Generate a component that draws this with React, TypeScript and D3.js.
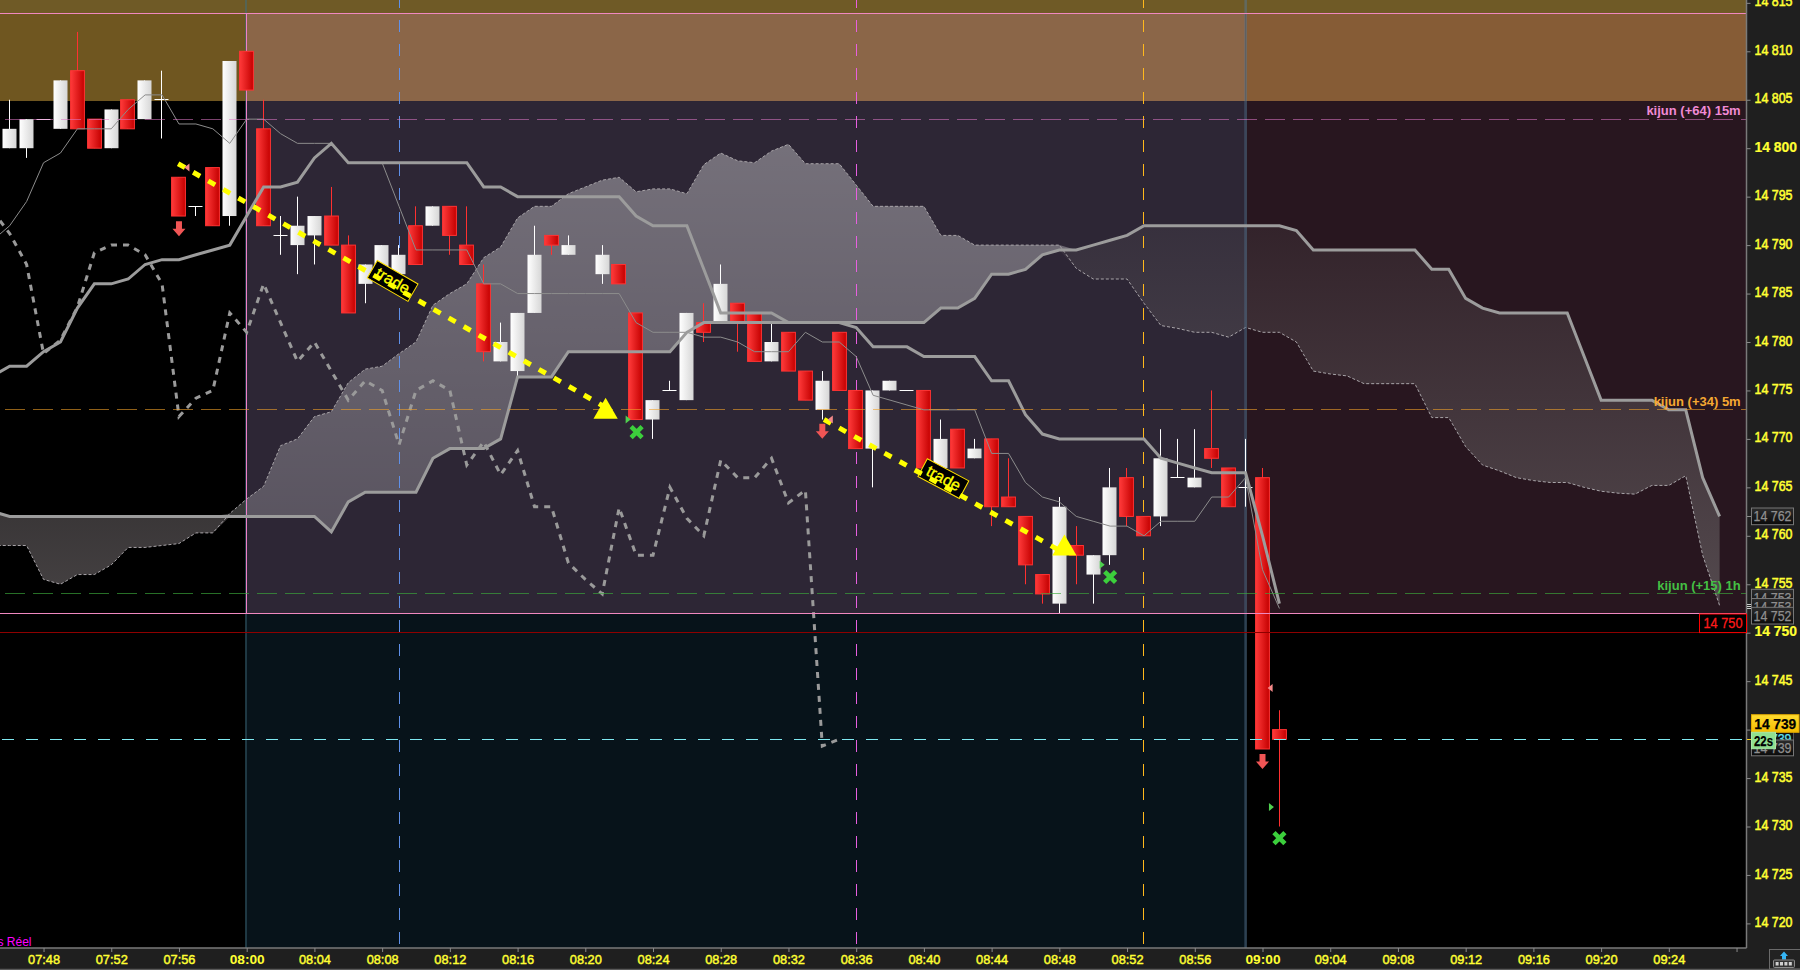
import { useEffect, useRef } from "react"
import * as d3 from "d3"

// minutes are counted from 08:00
const firstCandle = -14
const opens = [14800,14800,14803,14802,14808,14803,14800,14805,14803,14805,14797,14794,14798,14793,14810,14802,14791,14790,14791,14793,14790,14786,14787,14787,14792,14792,14794,14790,14786,14778,14777,14783,14791,14789,null,14787,14788,14783,14772,14775,14774,14782,14782,14784,14783,14778,14781,14777,14773,14781,14775,14769,14775,14775,14775,14767,14771,14768,14770,14764,14762,14756,14753,14759,14756,14758,14766,14762,14762,14766,14765,14769,14767,14765,14766,14740]
const highs = [14805,14803,14803,14807,14812,14803,14804,14805,14807,14808,14797,14794,14798,14809,14810,14805,14793,14795,14793,14796,14791,14788,14790,14790,14794,14794,14794,14794,14788,14782,14783,14792,14791,14791,null,14790,14788,14783,14774,14776,14783,14784,14788,14784,14783,14782,14781,14777,14777,14781,14775,14775,14776,14775,14775,14772,14771,14770,14770,14768,14762,14756,14764,14761,14758,14767,14767,14762,14771,14770,14771,14775,14767,14770,14767,14742]
const lows = [14800,14799,14803,14802,14802,14800,14800,14802,14803,14801,14793,14793,14792,14792,14806,14792,14789,14787,14788,14790,14783,14784,14787,14787,14788,14792,14789,14788,14778,14778,14776.5,14783,14789,14789,null,14786,14786,14772,14770,14775,14774,14780,14782,14779,14778,14778,14777,14774,14772,14775,14769,14765,14775,14775,14767,14767,14767,14768,14761,14763,14755,14753,14752,14755,14753,14757,14761,14760,14761,14766,14765,14767,14763,14763,14738,14730]
const closes = [14802,14803,14803,14807,14802,14800,14804,14802,14807,14805,14793,14794,14792,14809,14806,14792,14791,14792,14793,14790,14783,14788,14790,14789,14788,14794,14791,14788,14779,14780,14783,14789,14790,14790,null,14789,14786,14772,14774,14775,14783,14781,14786,14782,14778,14780,14777,14774,14776,14775,14769,14775,14776,14775,14767,14770,14767,14769,14763,14763,14757,14754,14763,14758,14758,14765,14762,14760,14768,14766,14766,14768,14763,14765,14738,14739]

const firstLine = -15
const tenkan = [14790.5,14792,14794.5,14798.5,14799.5,14802,14802,14802,14804,14805.5,14805.5,14802.5,14802.5,14802,14800.5,14803,14803,14801.5,14800.5,14800.5,14800.5,14798.5,14798.5,14798.5,14794,14789.5,14789.5,14789.5,14789.5,14786,14786,14785,14785,14785,14785,14785,14785,14785,14782,14781,14781,14781,14780.5,14780.5,14780,14779,14779,14779,14781,14780,14780,14778.5,14774.5,14774,14773.5,14773,14773,14773,14773,14768.5,14768.5,14765.5,14764,14763.5,14762,14761.5,14761,14761,14760,14761.5,14761.5,14761.5,14764,14764,14766,14756.5,14752.5]
const kijun = [14776.5,14777.5,14777.5,14779,14780,14783.5,14786,14786,14786.5,14788,14788.5,14788.5,14789,14789.5,14790,14793,14796,14796,14796.5,14799,14800.5,14798.5,14798.5,14798.5,14798.5,14798.5,14798.5,14798.5,14798.5,14796,14796,14795,14795,14795,14795,14795,14795,14795,14793,14792,14792,14792,14787.5,14783,14783,14783,14783,14782,14782,14782,14782,14781.5,14779.5,14779.5,14779.5,14778.5,14778.5,14778.5,14778.5,14776,14776,14772.5,14770.5,14770,14770,14770,14770,14770,14770,14768,14767.5,14767,14766.5,14766.5,14766.5,14760,14753]
const chikou = [14793.5,14791.2,14788,14778.8,14780.2,14783.6,14789.2,14790,14790,14789,14786,14772.3,14774.2,14775,14783,14781,14786,14782,14778,14780,14777,14774,14776,14775,14769.4,14775,14776,14775,14767.3,14769.7,14766.3,14768.8,14763,14763,14757.2,14755.5,14754,14762.9,14758,14758,14765,14761.8,14760,14767.8,14766,14766,14768,14763.4,14764.7,14738.3,14739]
const senkouA = [14762.5,14762,14762,14762,14762,14762,14762,14762,14762,14762,14762,14762,14762,14762,14762,14762,14762,14762,14762,14762,14760.4,14763.5,14764.5,14764.5,14764.5,14764.5,14768,14769,14769,14769,14770,14776.4,14776.4,14776.4,14779,14779,14779,14779,14779,14779,14779,14781,14782,14782,14782,14782,14782,14782,14782,14782,14782,14782,14782,14782,14782,14782,14783.5,14783.5,14784.5,14787,14787,14787.5,14789,14789.5,14789.5,14790,14790.5,14791,14792,14792,14792,14792,14792,14792,14792,14792,14792,14791.5,14789.5,14789.5,14789.5,14789.5,14789.5,14789.5,14789.5,14787.5,14787.5,14784.5,14783.5,14783,14783,14783,14783,14783,14778.5,14774,14774,14774,14774,14773,14773,14766,14762]
const senkouB = [14759,14759,14759,14755.5,14755,14756,14756,14757,14758.8,14758.8,14759,14759.2,14760.3,14760.3,14762.3,14763.8,14765.1,14769.3,14770,14772.3,14772.8,14775.8,14777.2,14777.5,14778.8,14780,14783.8,14785,14786,14788.7,14789.8,14792.8,14794,14794,14795.3,14796,14796.7,14797,14795.5,14795.8,14795.8,14795.3,14798.3,14799.5,14798.7,14798.5,14799.7,14800.4,14798.4,14798.4,14798.4,14796.2,14794,14794,14794,14794,14791,14791,14790,14790,14790,14790,14790,14790,14787.6,14786.5,14786.5,14786.5,14784,14781.7,14781.4,14781,14781,14780.5,14781.5,14781,14781,14780,14777,14776.7,14776.5,14775.7,14775.7,14775.7,14775.7,14772.2,14772.2,14769.2,14767.3,14766.7,14766,14765.7,14765.5,14765.5,14765,14764.6,14764.4,14764.3,14765.2,14765.2,14766.2,14758,14752.8]

const priceTicks = d3.range(14720, 14816, 5)
const timeTicks = d3.range(-12, 89, 4)
const sessionStart = 0, sessionEnd = 59
const zoneTop = 14813.9, zoneMid = 14804.87, zoneLow = 14752, stopLevel = 14750, lastPrice = 14739

const kijunLevels = [
  { price: 14803, label: "kijun (+64) 15m", dash: "rgba(224,120,200,0.55)", text: "#f08ad4", base: 115 },
  { price: 14773, label: "kijun (+34) 5m", dash: "rgba(240,160,40,0.6)", text: "#f5a832", base: 406 },
  { price: 14754, label: "kijun (+15) 1h", dash: "rgba(60,170,60,0.65)", text: "#44c044", base: 590 },
]
const marks = [{ t: 9, color: "#5f90e8" }, { t: 36, color: "#e85fe0" }, { t: 53, color: "#ffb81c" }]
const trades = [
  { t0: -4.05, p0: 14798.4, t1: 21.05, p1: 14773.4, labelT: 8.62, labelP: 14786.3, angle: 30, triT: 21.2, triP: 14772.8 },
  { t0: 34.1, p0: 14772, t1: 47.9, p1: 14758.6, labelT: 41.15, labelP: 14765.9, angle: 28, triT: 48.3, triP: 14758.7 },
]
const arrowT = [-4, 34, 60], arrowP = [14791.7, 14770.8, 14736.7]
const crossT = [23.03, 51, 61], crossP = [14770.7, 14755.75, 14728.8]
const greenT = [22.5, 50.5, 60.5], greenP = [14772, 14757, 14732]
const pinkT = [-3.5, 34.5, 60.48], pinkP = [14798, 14772, 14744.3]

const fmtPrice = (p: number) => `${Math.floor(p / 1000)} ${String(p % 1000).padStart(3, "0")}`
const fmtTime = (t: number) => {
  const m = 480 + t
  return `${String(Math.floor(m / 60)).padStart(2, "0")}:${String(m % 60).padStart(2, "0")}`
}
const FONT = "'Liberation Sans', Arial, sans-serif"
const crisp = (v: number) => Math.floor(v) + 0.5

export default function App() {
  const ref = useRef<SVGSVGElement>(null)
  useEffect(() => {
    if (!ref.current) return
    const right = 1746.5, bottom = 948, W = 1800, H = 970
    const root = d3.select(ref.current)
    root.selectAll("*").remove()
    const x = d3.scaleLinear().domain([0, 60]).range([246.7, 1262.5])
    const y = d3.scaleLinear().domain([14810, 14720]).range([51.3, 923.4])

    const defs = root.append("defs")
    const grad = (id: string, stops: [string, string][], attrs: any) => {
      const g = defs.append("linearGradient").attr("id", id)
      Object.keys(attrs).forEach(k => g.attr(k, attrs[k]))
      stops.forEach(s => g.append("stop").attr("offset", s[0]).attr("stop-color", s[1]))
    }
    grad("upBody", [["0%", "#ffffff"], ["100%", "#d6d6d6"]], { x1: 0, x2: 1, y1: 0, y2: 0 })
    grad("downBody", [["0%", "#ff3a3a"], ["100%", "#c40000"]], { x1: 0, x2: 1, y1: 0, y2: 0 })
    grad("cloudLight", [["0%", "rgba(255,255,255,0.34)"], ["100%", "rgba(255,255,255,0.21)"]], { gradientUnits: "userSpaceOnUse", x1: 0, x2: 0, y1: 150, y2: 530 })
    grad("cloudDark", [["0%", "rgba(104,98,100,0.165)"], ["100%", "rgba(104,98,100,0.667)"]], { gradientUnits: "userSpaceOnUse", x1: 0, x2: 0, y1: 220, y2: 600 })
    grad("goldBox", [["0%", "#ffdc30"], ["100%", "#f5bc00"]], { x1: 0, x2: 0, y1: 0, y2: 1 })
    grad("darkBox", [["0%", "#2c2c2c"], ["100%", "#0a0a0a"]], { x1: 0, x2: 0, y1: 0, y2: 1 })
    defs.append("clipPath").attr("id", "plot").append("rect").attr("width", right).attr("height", bottom)

    root.append("rect").attr("width", W).attr("height", H).attr("fill", "#1f1f1f")
    const plot = root.append("g").attr("clip-path", "url(#plot)")
    const band = (x0: number, x1: number, p0: number, p1: number, fill: string) =>
      plot.append("rect").attr("x", x0).attr("y", y(p0)).attr("width", x1 - x0).attr("height", y(p1) - y(p0)).attr("fill", fill)

    const xA = x(sessionStart), xB = x(sessionEnd)
    band(0, right, 14820, 14710, "#000000")
    band(0, right, 14820, zoneTop, "#6f5a26")
    band(0, xA, zoneTop, zoneMid, "#6f5620")
    band(xA, xB, zoneTop, zoneMid, "#8b6648")
    band(xB, right, zoneTop, zoneMid, "#865c36")
    band(xA, xB, zoneMid, zoneLow, "#2d2635")
    band(xB, right, zoneMid, zoneLow, "#28161f")
    band(xA, xB, zoneLow, 14710, "#07131a")

    // ichimoku cloud
    const lineT = (i: number) => firstLine + i
    const cloudIdx = d3.range(senkouA.length)
    plot.append("path").attr("fill", "url(#cloudLight)")
      .attr("d", d3.area<number>().x(i => x(lineT(i))).y0(i => y(senkouA[i])).y1(i => y(Math.max(senkouA[i], senkouB[i])))(cloudIdx))
    plot.append("path").attr("fill", "url(#cloudDark)")
      .attr("d", d3.area<number>().x(i => x(lineT(i))).y0(i => y(senkouA[i])).y1(i => y(Math.min(senkouA[i], senkouB[i])))(cloudIdx))

    const line = (vals: number[]) => d3.line<number>().x((_, i) => x(lineT(i))).y(v => y(v))(vals)
    plot.append("path").attr("d", line(senkouB)).attr("fill", "none").attr("stroke", "#a8a4a8").attr("stroke-width", 1).attr("stroke-dasharray", "3,2")

    // session separators and vertical time marks
    plot.append("rect").attr("x", xA - 1.7).attr("y", 0).attr("width", 2).attr("height", bottom).attr("fill", "rgba(60,110,130,0.5)")
    plot.append("rect").attr("x", xB - 1.2).attr("y", 0).attr("width", 2.6).attr("height", bottom).attr("fill", "rgba(85,120,150,0.5)")
    plot.append("line").attr("x1", crisp(xA)).attr("x2", crisp(xA)).attr("y1", y(zoneTop)).attr("y2", y(zoneLow)).attr("stroke", "#f080c8").attr("stroke-width", 1)
    marks.forEach(m => plot.append("line").attr("x1", crisp(x(m.t))).attr("x2", crisp(x(m.t))).attr("y1", -4).attr("y2", bottom)
      .attr("stroke", m.color).attr("stroke-width", 1).attr("stroke-dasharray", "12,12"))

    // candles
    const idx = d3.range(opens.length).filter(i => opens[i] != null)
    const gc = plot.append("g")
    idx.forEach(i => {
      const cx = crisp(x(firstCandle + i) - 0.2)
      const o = opens[i] as number, c = closes[i] as number, up = c >= o
      gc.append("line").attr("x1", cx).attr("x2", cx).attr("y1", y(highs[i] as number)).attr("y2", y(lows[i] as number))
        .attr("stroke", up ? "#ffffff" : "#ff3030").attr("stroke-width", 1)
      if (o === c) {
        gc.append("line").attr("x1", cx - 7).attr("x2", cx + 7).attr("y1", crisp(y(o))).attr("y2", crisp(y(o))).attr("stroke", "#ffffff").attr("stroke-width", 1)
      } else if (up) {
        gc.append("rect").attr("x", cx - 7).attr("y", y(c)).attr("width", 14).attr("height", y(o) - y(c)).attr("fill", "url(#upBody)")
      } else {
        gc.append("rect").attr("x", cx - 6.9).attr("y", y(o)).attr("width", 13.8).attr("height", y(c) - y(o)).attr("fill", "url(#downBody)").attr("stroke", "#ff3333").attr("stroke-width", 1)
      }
    })

    // lines over the candles
    plot.append("path").attr("d", line(tenkan)).attr("fill", "none").attr("stroke", "#8c8c8c").attr("stroke-width", 1)
    plot.append("path").attr("d", line(kijun)).attr("fill", "none").attr("stroke", "#9c9c9c").attr("stroke-width", 3)
    plot.append("path").attr("d", line(senkouA)).attr("fill", "none").attr("stroke", "#9c9c9c").attr("stroke-width", 3)
    plot.append("path").attr("d", line(chikou)).attr("fill", "none").attr("stroke", "#9a9a9a").attr("stroke-width", 3).attr("stroke-dasharray", "6,6")

    // horizontal levels
    kijunLevels.forEach(l => {
      plot.append("line").attr("x1", 5).attr("x2", right).attr("y1", crisp(y(l.price))).attr("y2", crisp(y(l.price)))
        .attr("stroke", l.dash).attr("stroke-width", 1).attr("stroke-dasharray", "20,8")
      plot.append("text").attr("x", 1740.7).attr("y", l.base).attr("text-anchor", "end").attr("fill", l.text)
        .style("font", `bold 13px ${FONT}`).text(l.label)
    })
    ;[zoneTop, zoneLow].forEach(p => plot.append("line").attr("x1", 0).attr("x2", right).attr("y1", crisp(y(p))).attr("y2", crisp(y(p))).attr("stroke", "#f088c0").attr("stroke-width", 1))
    plot.append("line").attr("x1", 0).attr("x2", right).attr("y1", crisp(y(stopLevel))).attr("y2", crisp(y(stopLevel))).attr("stroke", "#8e0000").attr("stroke-width", 1)
    plot.append("line").attr("x1", 2).attr("x2", right).attr("y1", crisp(y(lastPrice))).attr("y2", crisp(y(lastPrice))).attr("stroke", "#7fe8f0").attr("stroke-width", 1).attr("stroke-dasharray", "12,12")

    // trades
    trades.forEach(tr => {
      plot.append("path").attr("d", d3.symbol().type(d3.symbolTriangle).size(255)()).attr("fill", "#ffff00")
        .attr("transform", `translate(${x(tr.triT)},${y(tr.triP)})`)
      const lab = plot.append("g").attr("transform", `translate(${x(tr.labelT)},${y(tr.labelP)}) rotate(${tr.angle})`)
      lab.append("rect").attr("x", -23.5).attr("y", -10).attr("width", 47).attr("height", 20).attr("fill", "#000").attr("stroke", "#ffe000").attr("stroke-width", 1)
      lab.append("text").attr("text-anchor", "middle").attr("y", 5).attr("fill", "#ffff00").attr("stroke", "#ffff00").attr("stroke-width", 0.3).style("font", `16px ${FONT}`).text("trade")
      plot.append("line").attr("x1", x(tr.t0)).attr("y1", y(tr.p0)).attr("x2", x(tr.t1)).attr("y2", y(tr.p1))
        .attr("stroke", "#ffff00").attr("stroke-width", 5).attr("stroke-dasharray", "8,9.3")
    })

    // signal markers
    arrowT.forEach((t, i) => plot.append("path").attr("transform", `translate(${x(t)},${y(arrowP[i])})`)
      .attr("d", "M-3,-7.5H3V0H6.5L0,7.5L-6.5,0H-3Z").attr("fill", "#f05555"))
    crossT.forEach((t, i) => plot.append("path").attr("transform", `translate(${x(t)},${y(crossP[i])})`)
      .attr("d", d3.symbol().type(d3.symbolTimes).size(80)()).attr("fill", "none").attr("stroke", "#3ccf3c").attr("stroke-width", 4.6))
    greenT.forEach((t, i) => plot.append("path").attr("transform", `translate(${x(t)},${y(greenP[i])})`)
      .attr("d", "M-2,-4L3,0L-2,4Z").attr("fill", "#4fd04f"))
    pinkT.forEach((t, i) => plot.append("path").attr("transform", `translate(${x(t)},${y(pinkP[i])})`)
      .attr("d", "M2,-4L-3,0L2,4Z").attr("fill", "#f58a8a"))
    plot.append("text").attr("x", 31.5).attr("y", 945.5).attr("text-anchor", "end").attr("fill", "#ff00ff").style("font", `12px ${FONT}`).text("Temps Réel")

    // price axis
    const ya = root.append("g").attr("transform", `translate(${right},0)`)
      .call(d3.axisRight(y).tickValues(priceTicks).tickFormat(d => fmtPrice(+d)).tickSize(4).tickPadding(4))
    ya.select(".domain").attr("d", `M0,0V${bottom}`).attr("stroke", "#7a7a7a").attr("stroke-width", 1.5)
    ya.selectAll(".tick line").attr("stroke", "#8a8a8a")
    ya.selectAll<SVGTextElement, number>("text").attr("fill", "#ffff33").attr("dy", "0.22em")
      .style("font", d => `${d % 50 === 0 ? "bold" : "normal"} 14px ${FONT}`)
      .attr("textLength", d => d % 50 === 0 ? 42.5 : 38).attr("lengthAdjust", "spacingAndGlyphs")
      .attr("stroke", "#ffff33").attr("stroke-width", d => d % 50 === 0 ? 0.2 : 0.55)

    // time axis
    const xa = root.append("g").attr("transform", `translate(0,${bottom})`)
      .call(d3.axisBottom(x).tickValues(timeTicks).tickFormat(d => fmtTime(+d)).tickSize(4).tickPadding(1.5))
    xa.select(".domain").attr("d", `M0,0H${right}`).attr("stroke", "#7a7a7a").attr("stroke-width", 1.5)
    xa.selectAll(".tick line").attr("stroke", "#8a8a8a")
    xa.selectAll<SVGTextElement, number>("text").attr("fill", "#ffff33").attr("dy", "0.78em")
      .text(d => d > 84 ? "" : fmtTime(d))
      .style("font", d => `${d % 60 === 0 ? "bold" : "normal"} 13.5px ${FONT}`)
      .attr("textLength", d => d > 84 ? null : d % 60 === 0 ? 35 : 32).attr("lengthAdjust", "spacingAndGlyphs")
      .attr("stroke", "#ffff33").attr("stroke-width", d => d % 60 === 0 ? 0 : 0.45)

    // price flags, stacked as on the platform
    const flag = (x0: number, w: number, top: number, h: number, fill: string, stroke: string, text: string, color: string, weight = "normal", tl = 38) => {
      root.append("rect").attr("x", x0).attr("y", top).attr("width", w).attr("height", h).attr("fill", fill).attr("stroke", stroke).attr("stroke-width", 1)
      root.append("text").attr("x", x0 + w / 2).attr("y", top + h / 2 + 5).attr("text-anchor", "middle").attr("fill", color)
        .attr("textLength", tl).attr("lengthAdjust", "spacingAndGlyphs")
        .attr("stroke", color).attr("stroke-width", 0.25)
        .style("font", `${weight} 14px ${FONT}`).text(text)
    }
    ;[604, 606, 608].forEach(v => root.append("line").attr("x1", 1747).attr("x2", 1751).attr("y1", v + 0.5).attr("y2", v + 0.5).attr("stroke", "#cccccc"))
    root.append("line").attr("x1", 1747).attr("x2", 1751).attr("y1", crisp(y(lastPrice))).attr("y2", crisp(y(lastPrice))).attr("stroke", "#ffd21a")
    root.append("line").attr("x1", 1747).attr("x2", 1751).attr("y1", crisp(y(14762))).attr("y2", crisp(y(14762))).attr("stroke", "#8a8a8a")
    const boxW = 42
    flag(1751.5, boxW, 508, 16.7, "url(#darkBox)", "#777", fmtPrice(14762), "#8f8f8f")
    flag(1751.5, boxW, 589.3, 16.7, "url(#darkBox)", "#777", fmtPrice(14753), "#8f8f8f")
    flag(1751.5, boxW, 598.5, 16.7, "url(#darkBox)", "#777", fmtPrice(14753), "#8f8f8f")
    flag(1751.5, boxW, 607.3, 16.7, "url(#darkBox)", "#777", fmtPrice(14752), "#8f8f8f")
    flag(1751.5, boxW, 731, 16.7, "#101010", "#555", fmtPrice(14739), "#5fe0f0")
    flag(1751.5, boxW, 740, 15.8, "url(#darkBox)", "#777", fmtPrice(14739), "#8f8f8f")
    flag(1751.5, 47.5, 714.7, 17.6, "url(#goldBox)", "#e0a800", fmtPrice(lastPrice), "#000000", "bold", 42)
    flag(1751.5, 24, 732.3, 16.4, "#90e090", "#a8e8a8", "22s", "#000000", "bold", 19)
    root.append("rect").attr("x", 1699.5).attr("y", 614).attr("width", 47).attr("height", 18.6).attr("fill", "#000").attr("stroke", "#ff0000").attr("stroke-width", 1)
    root.append("text").attr("x", 1723).attr("y", 628.3).attr("text-anchor", "middle").attr("fill", "#ff1a1a").attr("stroke", "#ff1a1a").attr("stroke-width", 0.3)
      .attr("textLength", 39).attr("lengthAdjust", "spacingAndGlyphs").style("font", `14px ${FONT}`).text(fmtPrice(stopLevel))

    // bottom right button
    root.append("rect").attr("x", 1769.5).attr("y", 949.5).attr("width", 31).attr("height", 19.5).attr("fill", "#222").attr("stroke", "#6a6a6a")
    root.append("line").attr("x1", 0).attr("x2", W).attr("y1", 969.3).attr("y2", 969.3).attr("stroke", "#6a6a6a")
    root.append("path").attr("d", "M1784,951.5L1788,956H1786V959.5H1782V956H1780Z").attr("fill", "#35b5f5")
    root.append("rect").attr("x", 1773.5).attr("y", 960).attr("width", 21).attr("height", 7.5).attr("rx", 1).attr("fill", "#333").attr("stroke", "#8a8a8a")
    d3.range(4).forEach(i => root.append("rect").attr("x", 1775.6 + i * 4.4).attr("y", 962).attr("width", 3).attr("height", 3.5).attr("fill", "#d0d0d0"))
  }, [])
  return <svg ref={ref} width={1800} height={970} style={{ position: "absolute", left: 0, top: 0, display: "block" }} />
}
